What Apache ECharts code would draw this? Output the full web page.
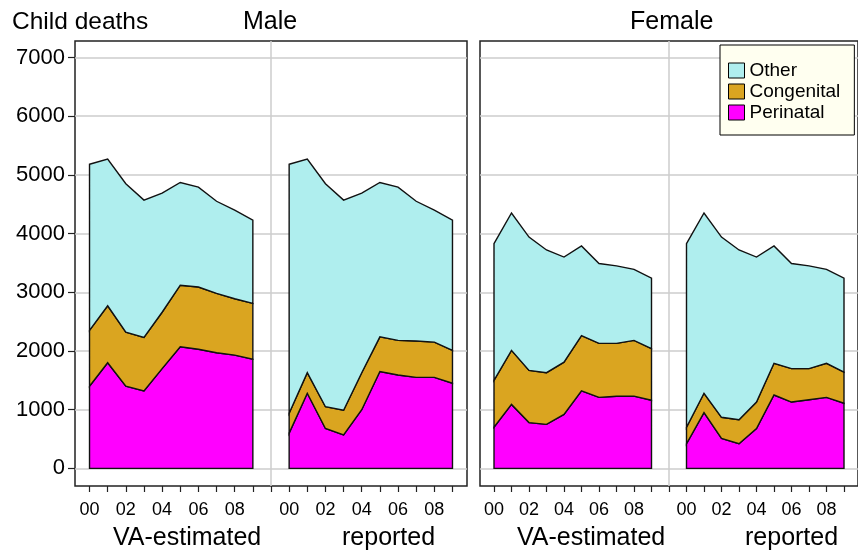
<!DOCTYPE html>
<html>
<head>
<meta charset="utf-8">
<title>Child deaths</title>
<script src="https://cdn.jsdelivr.net/npm/echarts@6/dist/echarts.min.js"></script>
<style>
  html, body { margin: 0; padding: 0; background: #fff; }
  #chart { width: 858px; height: 551px; }
</style>
</head>
<body>
<div id="chart"></div>
<script>
// years shown under each group, ticks of the count axis
const years = ['00', '01', '02', '03', '04', '05', '06', '07', '08', '09'];
const yTicks = [0, 1000, 2000, 3000, 4000, 5000, 6000, 7000];

// Male, VA-estimated
const maleVaPerinatal = [1400, 1800, 1400, 1320, 1700, 2070, 2030, 1970, 1930, 1860];
const maleVaCongenital = [950, 970, 920, 910, 960, 1050, 1060, 1010, 960, 950];
const maleVaOther = [2830, 2500, 2530, 2340, 2030, 1750, 1700, 1570, 1510, 1420];
// Male, reported
const maleRepPerinatal = [600, 1280, 680, 570, 1000, 1650, 1590, 1550, 1550, 1450];
const maleRepCongenital = [340, 350, 370, 420, 630, 590, 590, 620, 600, 560];
const maleRepOther = [4240, 3640, 3800, 3580, 3060, 2630, 2610, 2380, 2250, 2220];
// Female, VA-estimated
const femaleVaPerinatal = [700, 1090, 780, 750, 920, 1320, 1210, 1230, 1230, 1160];
const femaleVaCongenital = [800, 920, 890, 880, 890, 940, 920, 900, 950, 880];
const femaleVaOther = [2330, 2340, 2270, 2090, 1790, 1530, 1360, 1320, 1210, 1200];
// Female, reported
const femaleRepPerinatal = [420, 950, 510, 420, 680, 1250, 1130, 1170, 1210, 1110];
const femaleRepCongenital = [280, 330, 360, 410, 450, 540, 570, 530, 580, 530];
const femaleRepOther = [3130, 3070, 3070, 2890, 2470, 2000, 1790, 1750, 1600, 1600];

const causes = ['Perinatal', 'Congenital', 'Other'];
const causeColors = { Perinatal: '#FF00FF', Congenital: '#DAA520', Other: '#AFEEEE' };
const font = '"Liberation Sans", Arial, sans-serif';

// reported group starts after a one-step gap
const panels = [
  { xAxis: 0, yAxis: 0, groups: [
    { start: 0, Perinatal: maleVaPerinatal, Congenital: maleVaCongenital, Other: maleVaOther },
    { start: 11, Perinatal: maleRepPerinatal, Congenital: maleRepCongenital, Other: maleRepOther }
  ]},
  { xAxis: 2, yAxis: 1, groups: [
    { start: 0, Perinatal: femaleVaPerinatal, Congenital: femaleVaCongenital, Other: femaleVaOther },
    { start: 11, Perinatal: femaleRepPerinatal, Congenital: femaleRepCongenital, Other: femaleRepOther }
  ]}
];

const xTickValues = [];
for (let i = 0; i <= 20; i++) xTickValues.push(i);
const xLabelValues = [0, 2, 4, 6, 8, 11, 13, 15, 17, 19];

let series = [];
panels.forEach(function (panel) {
  causes.forEach(function (cause, ci) {
    series.push({
      type: 'custom',
      name: cause,
      xAxisIndex: panel.xAxis,
      yAxisIndex: panel.yAxis,
      itemStyle: { color: causeColors[cause], borderColor: '#000', borderWidth: 1 },
      data: panel.groups.map(function (g) { return [g.start, 0]; }),
      encode: { x: 0, y: 1 },
      renderItem: function (params, api) {
        let g = panel.groups[params.dataIndex];
        let top = [], bottom = [];
        for (let i = 0; i < years.length; i++) {
          let base = 0;
          for (let k = 0; k < ci; k++) base += g[causes[k]][i];
          bottom.push(api.coord([g.start + i, base]));
          top.push(api.coord([g.start + i, base + g[cause][i]]));
        }
        return {
          type: 'polygon',
          shape: { points: top.concat(bottom.reverse()) },
          style: { fill: causeColors[cause], stroke: '#111', lineWidth: 1.4 }
        };
      }
    });
  });
});

function mainX(gridIndex) {
  return {
    type: 'value', gridIndex: gridIndex, min: -0.8, max: 20.8, position: 'bottom',
    axisLine: { show: false, onZero: false },
    axisTick: { show: true, length: 6, customValues: xTickValues, lineStyle: { color: '#222', width: 1.2 } },
    axisLabel: {
      customValues: xLabelValues, margin: 15, fontSize: 18, color: '#000', fontFamily: font,
      formatter: function (v) { return years[v >= 11 ? v - 11 : v]; }
    },
    splitLine: { show: false }
  };
}
// only carries the grey line between the two groups
function sepX(gridIndex) {
  return {
    type: 'value', gridIndex: gridIndex, min: -0.8, max: 20.8, position: 'bottom',
    axisLine: { show: false, onZero: false },
    axisTick: { show: false, customValues: [10] },
    axisLabel: { show: false },
    splitLine: { show: true, lineStyle: { color: '#cccccc', width: 1.5 } }
  };
}
function yAx(gridIndex, labels) {
  return {
    type: 'value', gridIndex: gridIndex, min: -300, max: 7280, position: 'left',
    axisLine: { show: false, onZero: false },
    axisTick: { show: labels, length: 7, customValues: yTicks, lineStyle: { color: '#222', width: 1.2 } },
    axisLabel: {
      show: labels, customValues: yTicks, margin: 10, fontSize: 22, color: '#000', fontFamily: font,
      formatter: function (v) { return String(v); }
    },
    splitLine: { show: true, lineStyle: { color: '#cccccc', width: 1.5 } }
  };
}

function label(text, left, top, size) {
  return { text: text, left: left, top: top, padding: 0,
    textStyle: { fontSize: size, fontWeight: 'normal', color: '#000', fontFamily: font } };
}

let myChart = echarts.init(document.getElementById('chart'));
let option = {
  animation: false,
  backgroundColor: '#fff',
  title: [
    label('Child deaths', 12, 10, 24.5),
    label('Male', 243, 10, 25),
    label('Female', 630, 10, 25),
    label('VA-estimated', 113, 526, 25),
    label('reported', 342, 526, 25),
    label('VA-estimated', 517, 526, 25),
    label('reported', 745, 526, 25)
  ],
  legend: {
    data: ['Other', 'Congenital', 'Perinatal'],
    orient: 'vertical', left: 720, top: 45,
    backgroundColor: '#FFFFF0', borderColor: '#000', borderWidth: 1,
    padding: [15, 14, 12, 8],
    icon: 'rect', itemWidth: 16, itemHeight: 15, itemGap: 0,
    itemStyle: { borderColor: '#000', borderWidth: 1 },
    textStyle: { fontSize: 19, lineHeight: 21, color: '#000', fontFamily: font }
  },
  grid: [
    { left: 75, top: 41, width: 392, height: 445, show: true, borderColor: '#222', borderWidth: 1.5, backgroundColor: 'transparent' },
    { left: 480, top: 41, width: 392, height: 445, show: true, borderColor: '#222', borderWidth: 1.5, backgroundColor: 'transparent' }
  ],
  xAxis: [mainX(0), sepX(0), mainX(1), sepX(1)],
  yAxis: [yAx(0, true), yAx(1, false)],
  series: series
};
myChart.setOption(option);
</script>
</body>
</html>
